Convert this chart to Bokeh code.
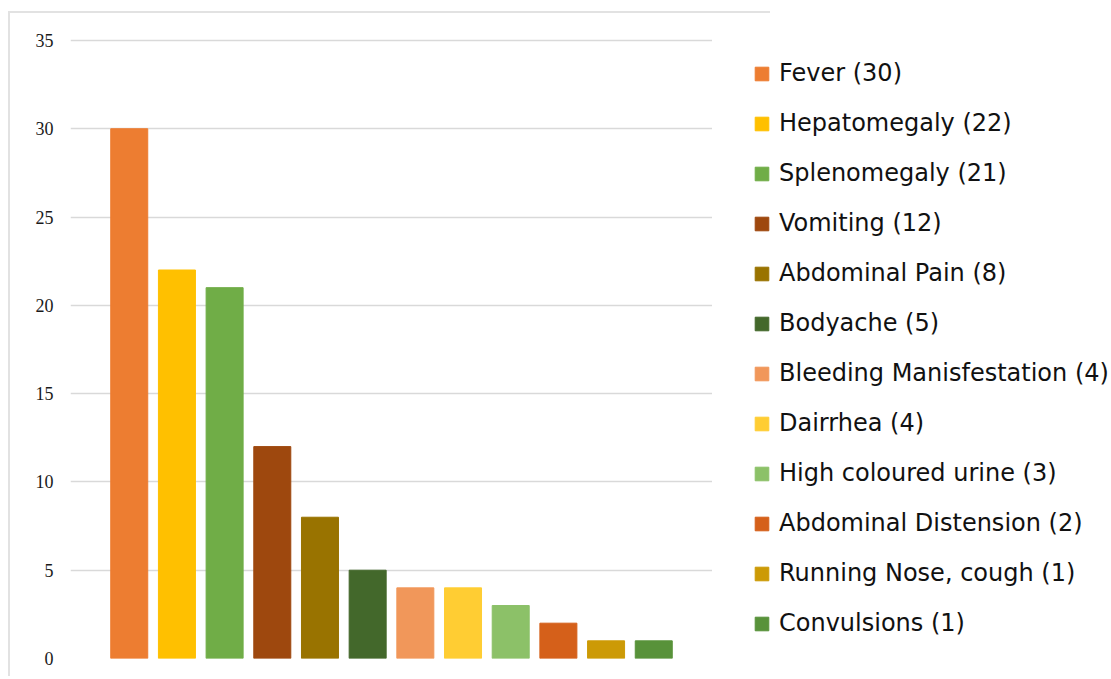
from bokeh.plotting import figure
from bokeh.layouts import row
from bokeh.models import ColumnDataSource, FactorRange, Range1d, Legend, LegendItem, FixedTicker
from bokeh.embed import file_html
from bokeh.resources import INLINE

symptoms = ["Fever", "Hepatomegaly", "Splenomegaly", "Vomiting", "Abdominal Pain",
            "Bodyache", "Bleeding Manisfestation", "Dairrhea", "High coloured urine",
            "Abdominal Distension", "Running Nose, cough", "Convulsions"]
counts = [30, 22, 21, 12, 8, 5, 4, 4, 3, 2, 1, 1]
colors = ["#ED7D31", "#FFC000", "#70AD47", "#9E480E", "#997300", "#43682B",
          "#F1975A", "#FFCD33", "#8CC168", "#D5601A", "#CC9A06", "#58923A"]
y_ticks = [0, 5, 10, 15, 20, 25, 30, 35]

labels = [f"{s} ({c})" for s, c in zip(symptoms, counts)]
source = ColumnDataSource(dict(x=symptoms, top=counts, color=colors, label=labels))

H = 676
border_css = ("linear-gradient(#e2e2e2,#e2e2e2) 8px 11px / 800px 2px no-repeat, "
              "linear-gradient(#e2e2e2,#e2e2e2) 8px 11px / 2px 700px no-repeat")

p = figure(width=712, height=H, output_backend="svg", toolbar_location=None,
           x_range=FactorRange(factors=symptoms, range_padding=0.122),
           y_range=Range1d(0, 35.28),
           min_border_left=70, min_border_right=0, min_border_top=35, min_border_bottom=H - 658)
p.border_fill_color = None
p.background_fill_color = None
p.styles = {"background": border_css}

r = p.vbar(x="x", top="top", width=0.776, color="color", source=source)

p.xaxis.visible = False
p.xgrid.visible = False
p.outline_line_color = None
p.yaxis.ticker = FixedTicker(ticks=y_ticks)
p.yaxis.axis_line_color = None
p.yaxis.major_tick_line_color = None
p.yaxis.minor_tick_line_color = None
p.yaxis.major_label_text_font = "Liberation Serif"
p.yaxis.major_label_text_font_size = "18px"
p.yaxis.major_label_text_color = "#1a1a1a"
p.yaxis.major_label_standoff = 11
p.ygrid.grid_line_color = "#d9d9d9"
p.ygrid.grid_line_width = 1.5

# legend panel
p2 = figure(width=399, height=H, output_backend="svg", toolbar_location=None,
            x_range=FactorRange(factors=symptoms), y_range=Range1d(100, 200),
            min_border_left=0, min_border_right=0, min_border_top=0, min_border_bottom=0)
p2.axis.visible = False
p2.grid.visible = False
p2.outline_line_color = None
p2.border_fill_color = None
p2.background_fill_color = None
p2.styles = {"background": "linear-gradient(#e2e2e2,#e2e2e2) 0px 11px / 58px 2px no-repeat"}
r2 = p2.vbar(x="x", top="top", width=0.776, color="color", source=source, visible=False)

items = [LegendItem(label=labels[i], renderers=[r2], index=i) for i in range(len(labels))]
legend = Legend(items=items, location=(41, 21), padding=0, margin=0,
                glyph_width=17, glyph_height=17, label_height=28, spacing=22,
                label_standoff=9, label_text_font="DejaVu Sans",
                label_text_font_size="24px", label_text_color="#111111",
                border_line_color=None, background_fill_alpha=0)
p2.add_layout(legend, "center")

layout = row(p, p2, spacing=0)
open("out.html", "w").write(file_html(layout, INLINE))
